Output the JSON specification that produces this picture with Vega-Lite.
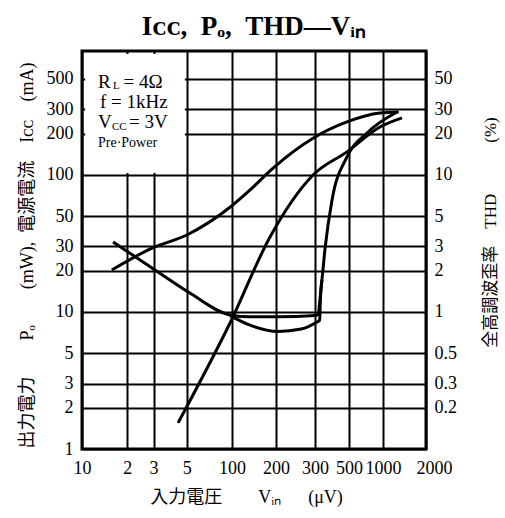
{
  "$schema": "https://vega.github.io/schema/vega-lite/v6.json",
  "width": 344,
  "height": 398,
  "autosize": {"type": "none"},
  "padding": {"left": 82, "top": 51, "right": 79, "bottom": 69},
  "background": "white",
  "title": {
    "text": "Iᴄᴄ,\u2002Pₒ,\u2002THD—Vᵢₙ",
    "font": "Liberation Serif",
    "fontSize": 27,
    "fontWeight": "bold",
    "color": "black",
    "anchor": "middle",
    "offset": 10
  },
  "config": {
    "view": {"stroke": "black", "strokeWidth": 3},
    "axis": {
      "labelFont": "Liberation Serif",
      "labelFontSize": 18,
      "labelColor": "black",
      "titleFont": "Liberation Serif, Noto Sans CJK JP",
      "titleFontWeight": "normal",
      "titleColor": "black",
      "titleFontSize": 15,
      "ticks": false,
      "domain": false,
      "gridColor": "black",
      "gridOpacity": 1,
      "gridWidth": 2,
      "labelOverlap": false,
      "labelFlush": false,
      "labelBound": false
    }
  },
  "datasets": {
    "main": [
      {"s": "Icc", "i": 0, "x": 15.8, "y": 20.2},
      {"s": "Icc", "i": 1, "x": 29.3, "y": 29.2},
      {"s": "Icc", "i": 2, "x": 50, "y": 36.4},
      {"s": "Icc", "i": 3, "x": 97, "y": 58},
      {"s": "Icc", "i": 4, "x": 133, "y": 77.5},
      {"s": "Icc", "i": 5, "x": 191, "y": 112},
      {"s": "Icc", "i": 6, "x": 294, "y": 185},
      {"s": "Icc", "i": 7, "x": 485, "y": 243},
      {"s": "Icc", "i": 8, "x": 940, "y": 282},
      {"s": "Icc", "i": 9, "x": 1290, "y": 287},
      {"s": "Po", "i": 0, "x": 43.7, "y": 1.55},
      {"s": "Po", "i": 1, "x": 97, "y": 8.3},
      {"s": "Po", "i": 2, "x": 182, "y": 35.2},
      {"s": "Po", "i": 3, "x": 294, "y": 99.7},
      {"s": "Po", "i": 4, "x": 485, "y": 147},
      {"s": "Po", "i": 5, "x": 940, "y": 223},
      {"s": "Po", "i": 6, "x": 1359, "y": 260}
    ],
    "thd": [
      {"s": "THD1", "i": 0, "x": 16.1, "thd": 3.24},
      {"s": "THD1", "i": 1, "x": 29.3, "thd": 2.09},
      {"s": "THD1", "i": 2, "x": 52, "thd": 1.38},
      {"s": "THD1", "i": 3, "x": 97, "thd": 0.95},
      {"s": "THD1", "i": 4, "x": 133, "thd": 0.92},
      {"s": "THD1", "i": 5, "x": 204, "thd": 0.92},
      {"s": "THD1", "i": 6, "x": 300, "thd": 0.94},
      {"s": "THD1", "i": 7, "x": 316, "thd": 0.96},
      {"s": "THD1", "i": 8, "x": 320, "thd": 1.1},
      {"s": "THD1", "i": 9, "x": 333, "thd": 1.71},
      {"s": "THD1", "i": 10, "x": 348, "thd": 2.83},
      {"s": "THD1", "i": 11, "x": 387, "thd": 6.5},
      {"s": "THD1", "i": 12, "x": 485, "thd": 13.5},
      {"s": "THD1", "i": 13, "x": 722, "thd": 20.2},
      {"s": "THD1", "i": 14, "x": 1253, "thd": 28.7},
      {"s": "THD2", "i": 0, "x": 97, "thd": 0.94},
      {"s": "THD2", "i": 1, "x": 133, "thd": 0.8},
      {"s": "THD2", "i": 2, "x": 204, "thd": 0.72},
      {"s": "THD2", "i": 3, "x": 260, "thd": 0.75},
      {"s": "THD2", "i": 4, "x": 307, "thd": 0.84},
      {"s": "THD2", "i": 5, "x": 322, "thd": 0.87},
      {"s": "THD2", "i": 6, "x": 325, "thd": 1.2},
      {"s": "THD2", "i": 7, "x": 333, "thd": 1.71}
    ],
    "notes": [
      {"k": "main", "x": 12.78, "y": 475, "t": "R"},
      {"k": "sub", "x": 16.1, "y": 444, "t": "L"},
      {"k": "main", "x": 18.9, "y": 475, "t": "= 4Ω"},
      {"k": "main", "x": 13.18, "y": 340, "t": "f = 1kHz"},
      {"k": "main", "x": 12.78, "y": 243, "t": "V"},
      {"k": "sub", "x": 15.85, "y": 222, "t": "CC"},
      {"k": "main", "x": 20.58, "y": 243, "t": "= 3V"},
      {"k": "small", "x": 12.78, "y": 171, "t": "Pre·Power"}
    ]
  },
  "layer": [
    {
      "layer": [
        {
          "data": {"name": "main"},
          "mark": {"type": "line", "stroke": "black", "strokeWidth": 3, "interpolate": "monotone", "clip": true},
          "encoding": {
            "x": {
              "field": "x", "type": "quantitative",
              "scale": {"type": "log", "nice": false, "domain": [10, 100, 200, 300, 500, 1000, 2000], "range": [0, 150, 194, 233, 267, 301, 344]},
              "axis": {
                "values": [10, 20, 30, 50, 100, 200, 300, 500, 1000, 2000],
                "labelExpr": "datum.value == 20 ? '2' : datum.value == 30 ? '3' : datum.value == 50 ? '5' : '' + datum.value",
                "labelOffset": {"condition": {"test": "datum.value == 2000", "value": 8}, "value": 0},
                "grid": true,
                "labelPadding": 10,
                "title": "入力電圧\u2003\u2003Vᵢₙ\u2003\u2002(μV)",
                "titleX": 164,
                "titleY": 48,
                "titleBaseline": "middle",
                "titleFontSize": 18
              }
            },
            "y": {
              "field": "y", "type": "quantitative",
              "scale": {"type": "log", "nice": false, "domain": [1, 800]},
              "axis": {
                "values": [1, 2, 3, 5, 10, 20, 30, 50, 100, 200, 300, 500],
                "labelExpr": "'' + datum.value",
                "grid": true,
                "labelPadding": 9,
                "title": "出力電力\u2003\u2003Pₒ\u2003\u2003(mW),\u2002電源電流\u2003Iᴄᴄ\u2003(mA)",
                "titleX": -55,
                "titleY": 204,
                "titleBaseline": "middle",
                "titleFontSize": 18
              }
            },
            "detail": {"field": "s"},
            "order": {"field": "i"}
          }
        },
        {
          "data": {"values": [{}]},
          "mark": {"type": "rect", "fill": "white"},
          "encoding": {
            "x": {"datum": 10.5, "type": "quantitative"},
            "x2": {"datum": 48.5},
            "y": {"datum": 103, "type": "quantitative"},
            "y2": {"datum": 760}
          }
        },
        {
          "data": {"name": "notes"},
          "transform": [{"filter": "datum.k == 'main'"}],
          "mark": {"type": "text", "align": "left", "baseline": "middle", "font": "Liberation Serif", "fontSize": 19, "color": "black"},
          "encoding": {
            "x": {"field": "x", "type": "quantitative"},
            "y": {"field": "y", "type": "quantitative"},
            "text": {"field": "t"}
          }
        },
        {
          "data": {"name": "notes"},
          "transform": [{"filter": "datum.k == 'sub'"}],
          "mark": {"type": "text", "align": "left", "baseline": "middle", "font": "Liberation Serif", "fontSize": 11, "color": "black"},
          "encoding": {
            "x": {"field": "x", "type": "quantitative"},
            "y": {"field": "y", "type": "quantitative"},
            "text": {"field": "t"}
          }
        },
        {
          "data": {"name": "notes"},
          "transform": [{"filter": "datum.k == 'small'"}],
          "mark": {"type": "text", "align": "left", "baseline": "middle", "font": "Liberation Serif", "fontSize": 14, "color": "black"},
          "encoding": {
            "x": {"field": "x", "type": "quantitative"},
            "y": {"field": "y", "type": "quantitative"},
            "text": {"field": "t"}
          }
        }
      ]
    },
    {
      "data": {"name": "thd"},
      "mark": {"type": "line", "stroke": "black", "strokeWidth": 3, "interpolate": "monotone", "clip": true},
      "encoding": {
        "x": {"field": "x", "type": "quantitative"},
        "y": {
          "field": "thd", "type": "quantitative",
          "scale": {"type": "log", "nice": false, "domain": [0.1, 80]},
          "axis": {
            "orient": "right",
            "values": [0.2, 0.3, 0.5, 1, 2, 3, 5, 10, 20, 30, 50],
            "labelExpr": "'' + datum.value",
            "grid": false,
            "labelPadding": 8,
            "title": "全高調波歪率\u2003THD\u2003\u2003\u2003(%)",
            "titleAngle": -90,
            "titleX": 64,
            "titleY": 181,
            "titleBaseline": "middle",
            "titleFontSize": 17
          }
        },
        "detail": {"field": "s"},
        "order": {"field": "i"}
      }
    }
  ],
  "resolve": {"scale": {"y": "independent"}}
}
